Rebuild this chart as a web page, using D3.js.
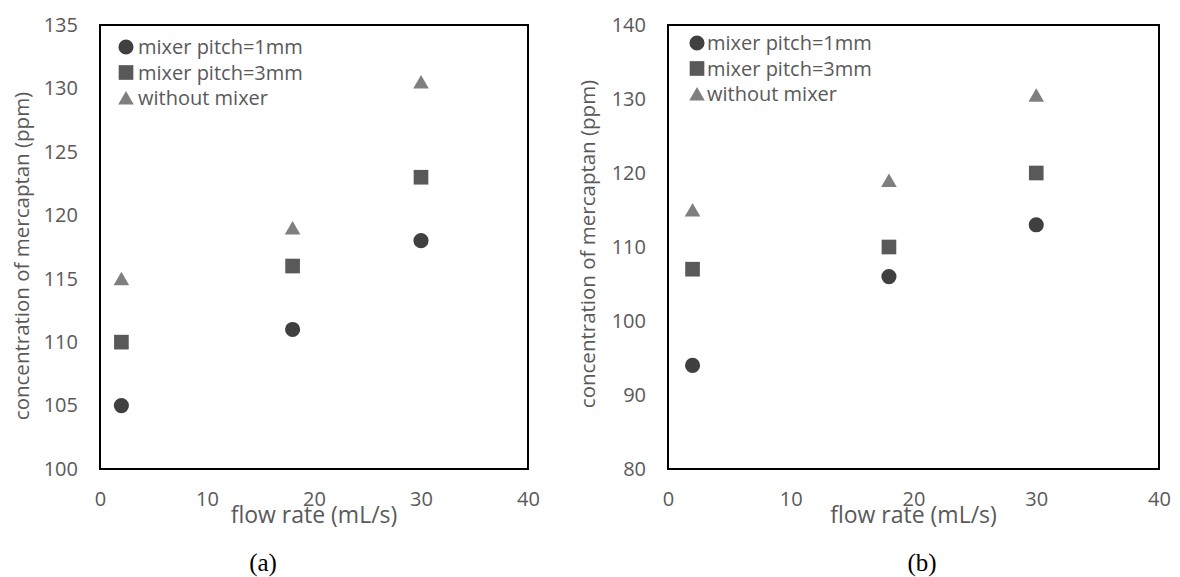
<!DOCTYPE html>
<html>
<head>
<meta charset="utf-8">
<script src="https://cdn.jsdelivr.net/npm/d3@7"></script>
<style>
  body { margin: 0; background: #fff; }
  text { font-family: "Open Sans", sans-serif; }
</style>
</head>
<body>
<div id="chart"></div>
<script>
// data
const flowRate = [2, 18, 30];
const seriesNames = ["mixer pitch=1mm", "mixer pitch=3mm", "without mixer"];
const xTicks = [0, 10, 20, 30, 40];

const panelA_pitch1 = [105, 111, 118];
const panelA_pitch3 = [110, 116, 123];
const panelA_none = [115, 119, 130.5];
const panelA_yTicks = [100, 105, 110, 115, 120, 125, 130, 135];

const panelB_pitch1 = [94, 106, 113];
const panelB_pitch3 = [107, 110, 120];
const panelB_none = [115, 119, 130.5];
const panelB_yTicks = [80, 90, 100, 110, 120, 130, 140];

const markerColors = ["#404040", "#595959", "#7f7f7f"];
const markerTypes = [d3.symbolCircle, d3.symbolSquare, d3.symbolTriangle];
const markerSizes = [180, 215, 105];

const svg = d3.select("#chart").append("svg")
    .attr("width", 1180)
    .attr("height", 577);

// triangles are drawn around their centroid, shift them so the box is centred
function markerShift(i) {
    return markerTypes[i] === d3.symbolTriangle ? 2 : 0;
}

function drawPanel(opt) {
    let g = svg.append("g");

    let x = d3.scaleLinear().domain([0, 40]).range([opt.left, opt.right]);
    let y = d3.scaleLinear().domain(d3.extent(opt.yTicks)).range([opt.bottom, opt.top]);

    // x axis labels
    g.append("g")
        .attr("transform", "translate(0," + opt.bottom + ")")
        .call(d3.axisBottom(x).tickValues(xTicks).tickSize(0).tickPadding(23))
        .call(a => a.select(".domain").remove())
        .selectAll("text")
        .attr("fill", "#595959")
        .style("font-size", "20px")
        .style("font-family", "'Open Sans', sans-serif");

    // y axis labels
    g.append("g")
        .attr("transform", "translate(" + opt.left + ",0)")
        .call(d3.axisLeft(y).tickValues(opt.yTicks).tickSize(0).tickPadding(opt.yPad))
        .call(a => a.select(".domain").remove())
        .selectAll("text")
        .attr("fill", "#595959")
        .style("font-size", "20px")
        .style("font-family", "'Open Sans', sans-serif");

    // box
    g.append("rect")
        .attr("x", opt.left)
        .attr("y", opt.top)
        .attr("width", opt.right - opt.left)
        .attr("height", opt.bottom - opt.top)
        .attr("fill", "none")
        .attr("stroke", "#000")
        .attr("stroke-width", 2);

    // markers
    opt.series.forEach((vals, i) => {
        g.selectAll(".m" + i)
            .data(vals)
            .enter()
            .append("path")
            .attr("class", "m" + i)
            .attr("d", d3.symbol().type(markerTypes[i]).size(markerSizes[i]))
            .attr("transform", (d, j) => "translate(" + x(flowRate[j]) + "," + (y(d) + markerShift(i)) + ")")
            .attr("fill", markerColors[i]);
    });

    // legend
    seriesNames.forEach((name, i) => {
        let ly = opt.legendY + i * 25.5;
        g.append("path")
            .attr("d", d3.symbol().type(markerTypes[i]).size(markerSizes[i]))
            .attr("transform", "translate(" + opt.legendX + "," + (ly + markerShift(i)) + ")")
            .attr("fill", markerColors[i]);
        g.append("text")
            .attr("x", opt.legendX + opt.legendGap)
            .attr("y", ly)
            .attr("dy", "0.35em")
            .attr("fill", "#595959")
            .style("font-size", "20px")
            .text(name);
    });

    // axis titles
    g.append("text")
        .attr("x", (opt.left + opt.right) / 2)
        .attr("y", opt.bottom + 54)
        .attr("text-anchor", "middle")
        .attr("fill", "#595959")
        .style("font-size", "23px")
        .text("flow rate (mL/s)");

    g.append("text")
        .attr("transform", "translate(" + opt.titleX + "," + opt.titleY + ") rotate(-90)")
        .attr("text-anchor", "middle")
        .attr("dy", "0.35em")
        .attr("fill", "#595959")
        .style("font-size", "20.5px")
        .text("concentration of mercaptan (ppm)");

    // panel caption
    g.append("text")
        .attr("x", opt.captionX)
        .attr("y", 562)
        .attr("text-anchor", "middle")
        .attr("dy", "0.35em")
        .attr("fill", "#000")
        .style("font-family", "'Liberation Serif', serif")
        .style("font-size", "25px")
        .text(opt.caption);
}

drawPanel({
    left: 100, right: 528, top: 25, bottom: 469,
    yTicks: panelA_yTicks, yPad: 22,
    series: [panelA_pitch1, panelA_pitch3, panelA_none],
    legendX: 126, legendY: 47, legendGap: 12,
    titleX: 22, titleY: 256, captionX: 263, caption: "(a)"
});

drawPanel({
    left: 668, right: 1159, top: 25, bottom: 469,
    yTicks: panelB_yTicks, yPad: 22,
    series: [panelB_pitch1, panelB_pitch3, panelB_none],
    legendX: 697, legendY: 43, legendGap: 10,
    titleX: 588, titleY: 244, captionX: 922, caption: "(b)"
});
</script>
</body>
</html>
